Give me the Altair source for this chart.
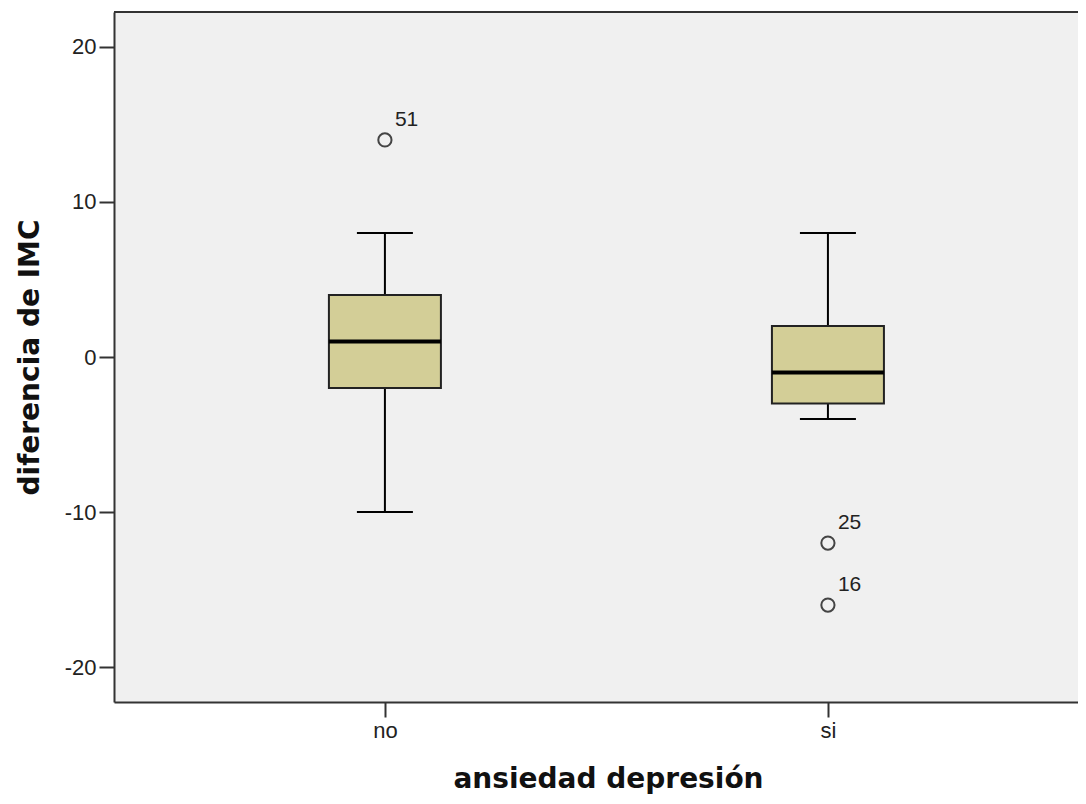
import altair as alt
import pandas as pd

# ---- data ----
groups = ["no", "si"]
q1 = [-2, -3]
median = [1, -1]
q3 = [4, 2]
whisker_low = [-10, -4]
whisker_high = [8, 8]

outlier_groups = ["no", "si", "si"]
outlier_values = [14, -12, -16]
outlier_ids = ["51", "25", "16"]

y_ticks = [-20, -10, 0, 10, 20]

box_df = pd.DataFrame({
    "grupo": groups, "q1": q1, "mediana": median, "q3": q3,
    "bajo": whisker_low, "alto": whisker_high,
})
out_df = pd.DataFrame({"grupo": outlier_groups, "valor": outlier_values, "caso": outlier_ids})

W, H = 964, 690
AX = "#333333"

xscale = alt.Scale(type="point", domain=groups, padding=0.588, align=0.52)
yscale = alt.Scale(domain=[-22.25, 22.25], nice=False, zero=False)

x_axis = alt.Axis(
    title="ansiedad depresión", grid=False, labelAngle=0,
    domainColor=AX, domainWidth=2, tickColor=AX, tickWidth=2, tickSize=15,
    labelFont="Liberation Sans", labelFontSize=22, labelColor="#222222", labelPadding=3,
    titleFont="DejaVu Sans", titleFontSize=28, titleFontWeight="bold", titleColor="#111111",
    titleX=494, titleY=85, titleBaseline="alphabetic", titleAlign="center",
)
y_axis = alt.Axis(
    title="diferencia de IMC", grid=False, values=y_ticks,
    labelExpr="'' + datum.value",
    domainColor=AX, domainWidth=2, tickColor=AX, tickWidth=2, tickSize=15,
    labelFont="Liberation Sans", labelFontSize=22, labelColor="#222222", labelPadding=3,
    titleFont="DejaVu Sans", titleFontSize=28, titleFontWeight="bold", titleColor="#111111",
    titleAngle=270, titleX=-76, titleY=345, titleBaseline="alphabetic", titleAlign="center",
)

def X():
    return alt.X("grupo:N", scale=xscale, axis=x_axis)

def Y(field):
    return alt.Y(f"{field}:Q", scale=yscale, axis=y_axis)

base = alt.Chart(box_df)

whisk_lo = base.mark_rule(color="black", strokeWidth=2).encode(x=X(), y=Y("bajo"), y2="q1:Q")
whisk_hi = base.mark_rule(color="black", strokeWidth=2).encode(x=X(), y=Y("q3"), y2="alto:Q")
cap_lo = base.mark_tick(color="black", size=56, thickness=2, opacity=1).encode(x=X(), y=Y("bajo"))
cap_hi = base.mark_tick(color="black", size=56, thickness=2, opacity=1).encode(x=X(), y=Y("alto"))
box = base.mark_bar(width=112, fill="#d3ce97", stroke="#222222", strokeWidth=2, opacity=1).encode(
    x=X(), y=Y("q1"), y2="q3:Q")
med = base.mark_tick(color="black", size=112, thickness=4, opacity=1).encode(x=X(), y=Y("mediana"))

pts = alt.Chart(out_df).mark_point(shape="circle", filled=False, size=175, stroke="#444444",
                                   strokeWidth=2, opacity=1).encode(x=X(), y=Y("valor"))
labs = alt.Chart(out_df).mark_text(align="left", baseline="alphabetic", dx=10, dy=-14,
                                   font="Liberation Sans", fontSize=21, color="#222222").encode(
    x=X(), y=Y("valor"), text="caso:N")

frame_top = alt.Chart(alt.Data(values=[{}])).mark_rule(color=AX, strokeWidth=2).encode(
    x=alt.value(0), x2=alt.value(W), y=alt.value(0))

chart = alt.layer(whisk_lo, whisk_hi, cap_lo, cap_hi, box, med, pts, labs, frame_top).properties(
    width=W, height=H,
    autosize=alt.AutoSizeParams(type="none"),
    padding={"left": 106, "top": 4, "right": 0, "bottom": 94},
    background="white",
).configure_view(fill="#f0f0f0", strokeWidth=0)

chart.save("out.html", embed_options={"renderer": "svg", "actions": False})
